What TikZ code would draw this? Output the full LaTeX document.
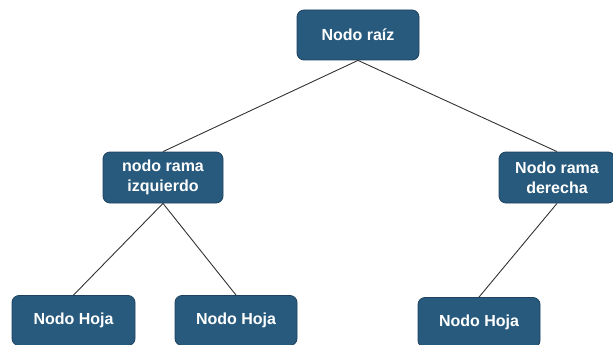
\documentclass[tikz,border=0pt]{standalone}
\usepackage{fontspec}
\setmainfont{Liberation Sans}
\begin{document}
\begin{tikzpicture}[x=1pt,y=-1pt,
  treenode/.style={draw=nodeedge, line width=0.8pt, fill=nodefill, rounded corners=7pt,
    text=white, font=\fontsize{16}{20}\selectfont\bfseries, align=center,
    inner sep=0pt},
  link/.style={draw=linkgray, line width=0.9pt}]
\definecolor{nodefill}{HTML}{285A7D}
\definecolor{nodeedge}{HTML}{1E4260}
\definecolor{linkgray}{HTML}{333333}
\useasboundingbox (0,0) rectangle (613,345);
\clip (0,0) rectangle (613,345);
% tree nodes
\node[treenode, minimum width=122pt, minimum height=50pt] (root) at (358,35) {Nodo raíz};
\node[treenode, minimum width=120pt, minimum height=51pt] (left) at (163,177.5) {nodo rama\\izquierdo};
\node[treenode, minimum width=116pt, minimum height=51pt] (right) at (557,177.5) {Nodo rama\\derecha};
\node[treenode, minimum width=123pt, minimum height=50pt] (leafa) at (73.5,320.5) {Nodo Hoja};
\node[treenode, minimum width=122pt, minimum height=50pt] (leafb) at (236,320.5) {Nodo Hoja};
\node[treenode, minimum width=122pt, minimum height=50pt] (leafc) at (479,322.5) {Nodo Hoja};
% links between parents and children
\draw[link] (root.south) -- (left.north);
\draw[link] (root.south) -- (right.north);
\draw[link] (left.south) -- (leafa.north);
\draw[link] (left.south) -- (leafb.north);
\draw[link] (right.south) -- (leafc.north);
\end{tikzpicture}
\end{document}
